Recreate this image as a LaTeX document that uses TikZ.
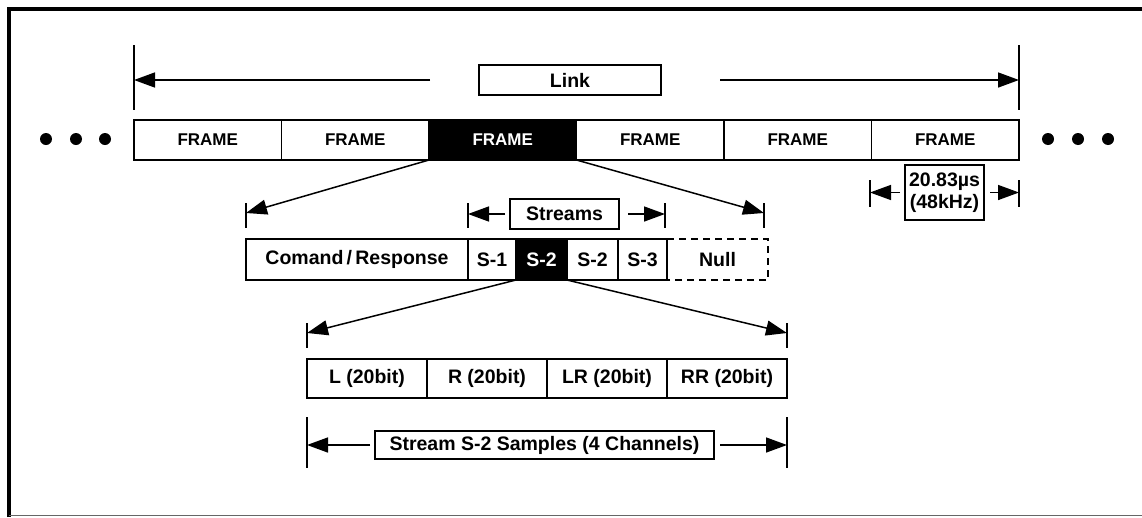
\documentclass[tikz,border=0pt]{standalone}
\usepackage{fontspec}
\setmainfont{Liberation Sans}
\usetikzlibrary{positioning,arrows.meta}

\tikzset{
  cell/.style={draw, line width=1.5pt, inner sep=0pt, outer sep=0pt, minimum height=40pt,
    font=\fontsize{19.5}{22}\selectfont\bfseries},
  frame/.style={cell, minimum width=147.5pt, font=\fontsize{17}{20}\selectfont\bfseries},
  dark/.style={fill=black, text=white},
  tag/.style={draw, line width=1.5pt, inner sep=0pt, outer sep=0pt,
    font=\fontsize{19.5}{22}\selectfont\bfseries},
  dim/.style={line width=1.5pt, -{Triangle[length=21pt,width=15pt]}},
  tick/.style={line width=1.3pt},
  dot/.style={circle, fill=black, inner sep=0pt, minimum size=12pt},
}

\begin{document}
\begin{tikzpicture}[x=1pt, y=-1pt]
  \useasboundingbox (0,0) rectangle (1142,517);
  % outer border
  \draw[line width=3.5pt] (9,517) -- (9,9) -- (1142,9);
  \draw[line width=1.5pt, black!60] (9,515.5) -- (1142,515.5);

  % link of frames
  \node (f1) [frame, anchor=north west] at (134,120) {FRAME};
  \node (f2) [frame, right=0pt of f1] {FRAME};
  \node (f3) [frame, dark, right=0pt of f2] {FRAME};
  \node (f4) [frame, right=0pt of f3] {FRAME};
  \node (f5) [frame, right=0pt of f4] {FRAME};
  \node (f6) [frame, right=0pt of f5] {FRAME};
  \foreach \x [count=\i] in {46,76,105,1048,1078,1108}
    \node (dot\i) [dot] at (\x,139) {};

  \node (link) [tag, minimum width=182pt, minimum height=30pt] at (570,80) {Link};
  \coordinate (lkL) at (134,80);
  \coordinate (lkR) at (1019,80);
  \draw[tick] (134,45) -- (134,110);
  \draw[tick] (1019,45) -- (1019,110);

  \node (per) [tag, align=center, minimum width=79pt, minimum height=55pt] at (944.5,192.5)
    {20.83µs\\(48kHz)};
  \coordinate (perL) at (870,192.5);
  \coordinate (perR) at (1019,192.5);
  \draw[tick] (870,180) -- (870,207);
  \draw[tick] (1019,180) -- (1019,207);

  % frame contents
  \node (cr) [cell, anchor=north west, minimum width=222pt, minimum height=41pt] at (246,239)
    {Comand\,/\,Response};
  \node (s1) [cell, right=0pt of cr, minimum width=48pt, minimum height=41pt] {S-1};
  \node (s2b) [cell, dark, right=0pt of s1, minimum width=51pt, minimum height=41pt] {S-2};
  \node (s2) [cell, right=0pt of s2b, minimum width=51pt, minimum height=41pt] {S-2};
  \node (s3) [cell, right=0pt of s2, minimum width=49pt, minimum height=41pt] {S-3};
  \node (null) [cell, draw=none, right=0pt of s3, minimum width=101pt, minimum height=41pt] {Null};
  \draw[line width=1.5pt, dash pattern=on 7pt off 5pt]
    (null.north west) -- (null.north east) -- (null.south east) -- (null.south west);

  \coordinate (fanL) at (246,213);
  \coordinate (fanR) at (764,213);
  \draw[tick] (246,203) -- (246,228);
  \draw[tick] (764,203) -- (764,228);

  \node (streams) [tag, minimum width=109pt, minimum height=30pt] at (564.5,214) {Streams};
  \coordinate (stL) at (468,214);
  \coordinate (stR) at (665,214);
  \draw[tick] (468,203) -- (468,228);
  \draw[tick] (665,203) -- (665,228);

  % stream S-2 samples
  \node (ch1) [cell, anchor=north west, minimum width=120pt, minimum height=39pt] at (307,359)
    {L (20bit)};
  \node (ch2) [cell, right=0pt of ch1, minimum width=120pt, minimum height=39pt] {R (20bit)};
  \node (ch3) [cell, right=0pt of ch2, minimum width=120pt, minimum height=39pt] {LR (20bit)};
  \node (ch4) [cell, right=0pt of ch3, minimum width=120pt, minimum height=39pt] {RR (20bit)};

  \coordinate (fan2L) at (307,333);
  \coordinate (fan2R) at (787,333);
  \draw[tick] (307,323) -- (307,348);
  \draw[tick] (787,323) -- (787,348);

  \node (smp) [tag, minimum width=339pt, minimum height=28pt] at (544.5,445)
    {Stream S-2 Samples (4 Channels)};
  \coordinate (smL) at (307,445);
  \coordinate (smR) at (787,445);
  \draw[tick] (307,417) -- (307,468);
  \draw[tick] (787,417) -- (787,468);

  \path[dim]
    (link) edge[shorten <=49pt] (lkL)
    (link) edge[shorten <=59pt] (lkR)
    (per) edge[shorten <=5pt] (perL)
    (per) edge[shorten <=6pt] (perR)
    (f3.south west) edge (fanL)
    (f3.south east) edge (fanR)
    (streams) edge[shorten <=5pt] (stL)
    (streams) edge[shorten <=9pt] (stR)
    (s2b.south west) edge (fan2L)
    (s2b.south east) edge (fan2R)
    (smp) edge[shorten <=5pt] (smL)
    (smp) edge[shorten <=6pt] (smR);
\end{tikzpicture}
\end{document}
